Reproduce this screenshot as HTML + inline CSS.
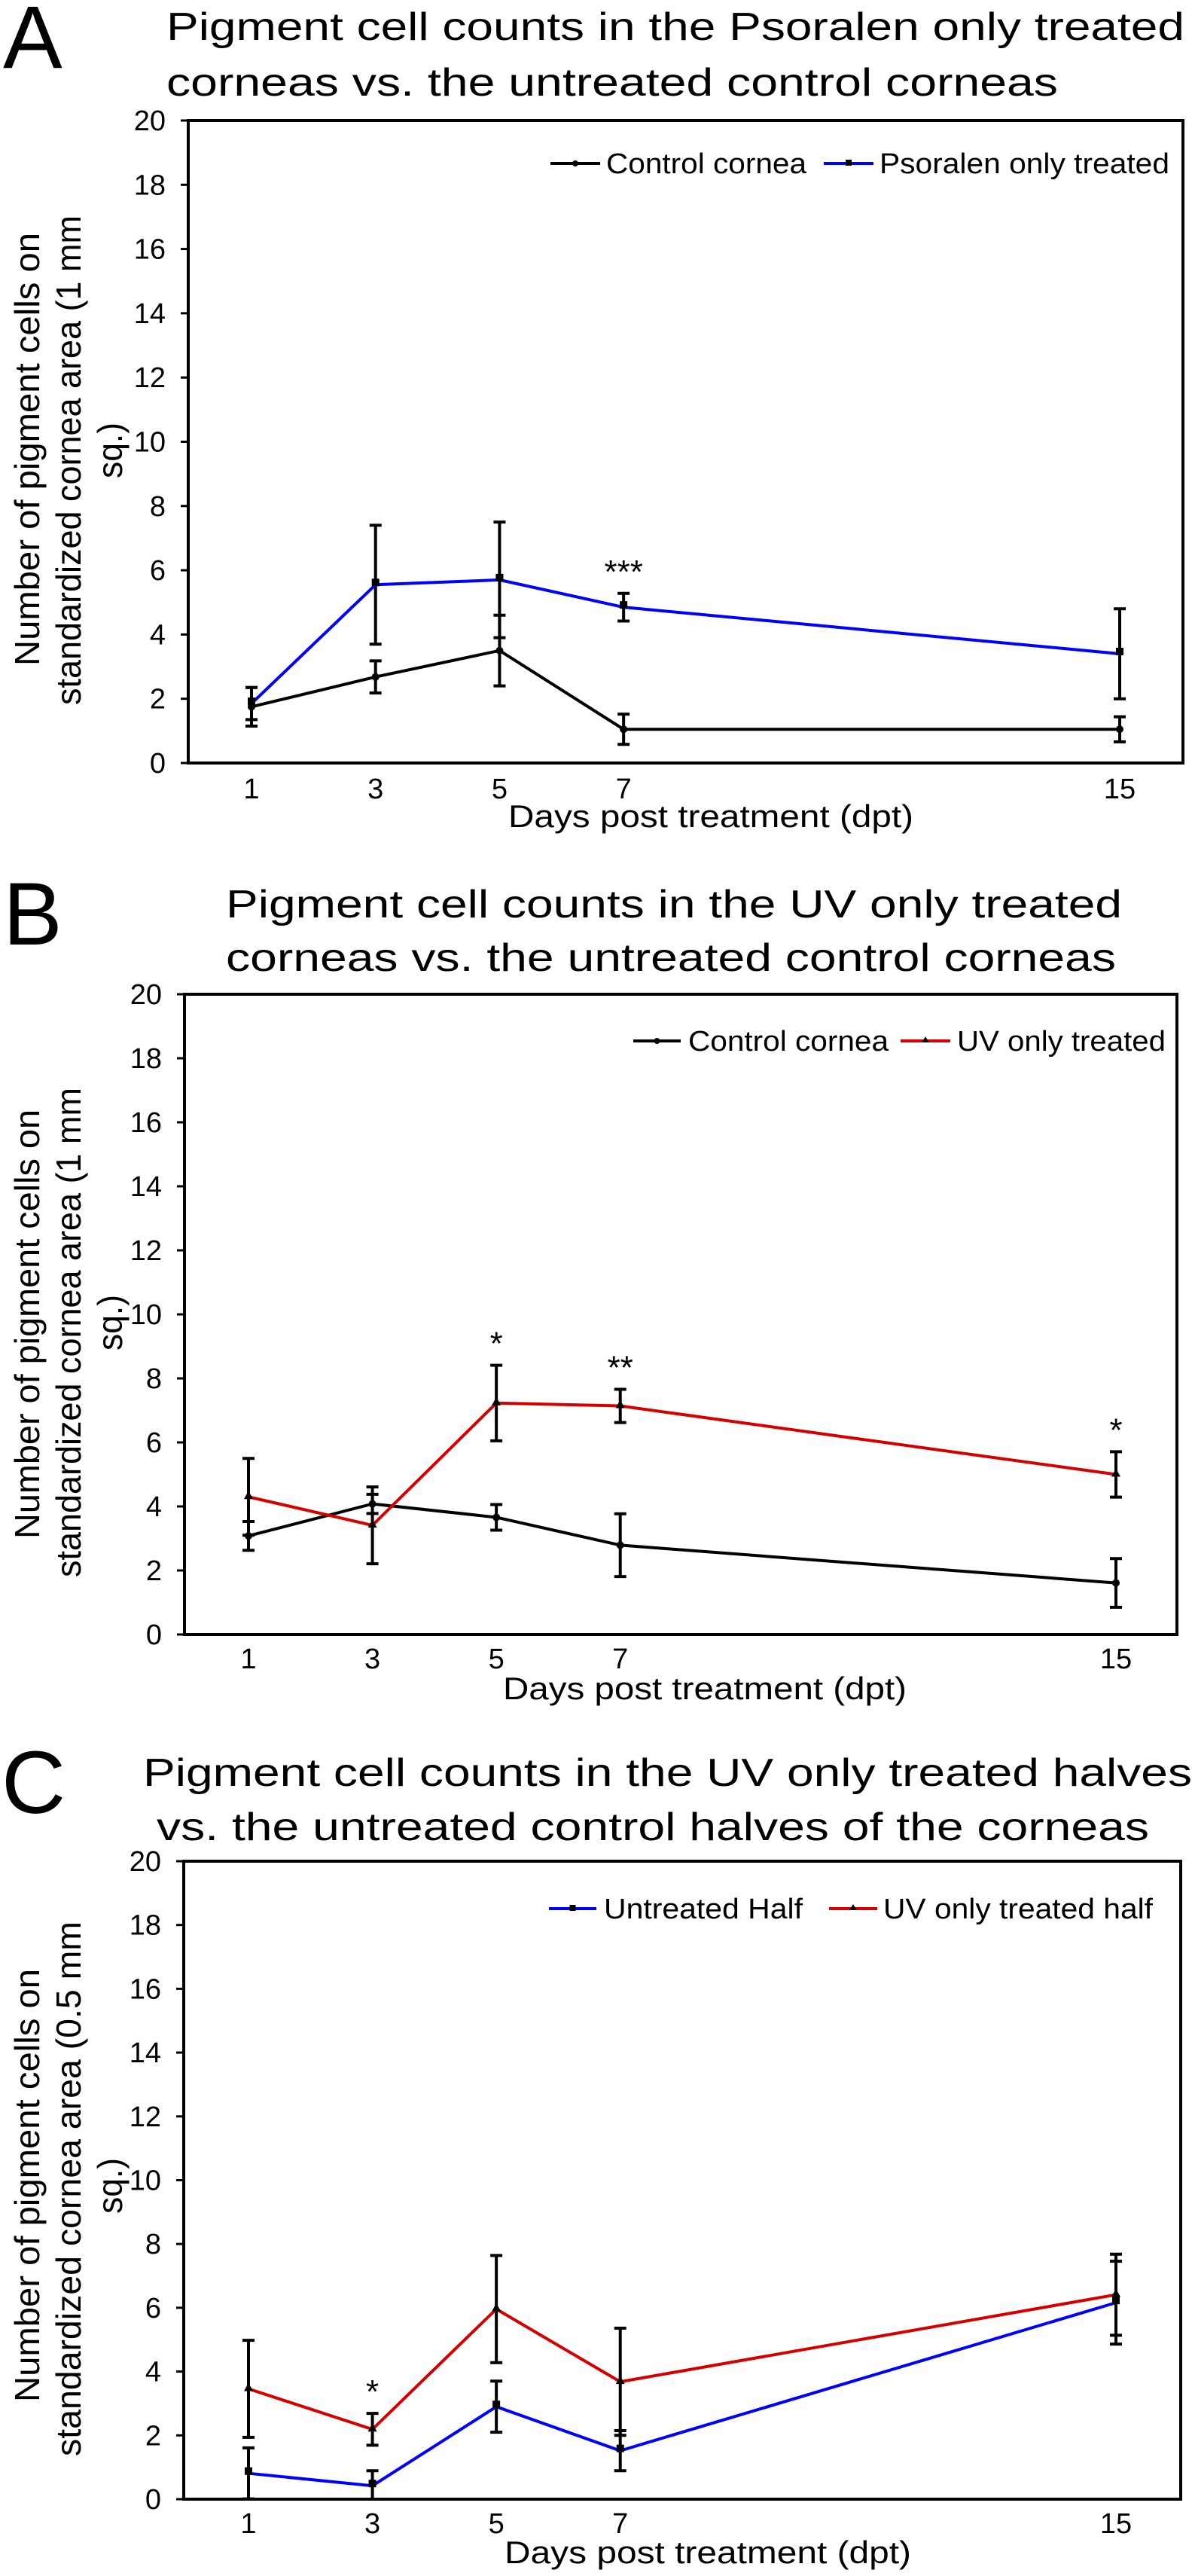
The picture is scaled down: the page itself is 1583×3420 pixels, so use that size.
<!DOCTYPE html>
<html><head><meta charset="utf-8"><style>
html,body{margin:0;padding:0;background:#fff;}
svg{display:block;font-family:"Liberation Sans",Arial,sans-serif;}
</style></head><body>
<svg id="fig" width="1583" height="3420" viewBox="0 0 1583 3420"></svg>
<script>
const days = [1,3,5,7,15];
const yTicks = [0,2,4,6,8,10,12,14,16,18,20];
const aControl = [1.75,2.68,3.5,1.05,1.05];
const aControlErr = [0.6,0.5,1.1,0.47,0.39];
const aPsoralen = [1.85,5.55,5.7,4.85,3.4];
const aPsoralenErr = [0.5,1.85,1.8,0.43,1.4];
const aStars = ["", "", "", "***", ""];
const bControl = [3.08,4.08,3.66,2.79,1.61];
const bControlErr = [0.45,0.3,0.4,0.98,0.76];
const bUV = [4.3,3.41,7.23,7.14,5.0];
const bUVErr = [1.2,1.2,1.18,0.52,0.71];
const bStars = ["", "", "*", "**", "*"];
const cUntreated = [0.81,0.42,2.9,1.52,6.16];
const cUntreatedErr = [0.8,0.47,0.8,0.63,1.3];
const cUV = [3.46,2.19,5.96,3.68,6.41];
const cUVErr = [1.52,0.5,1.68,1.68,1.27];
const cStars = ["", "*", "", "", ""];

const NS="http://www.w3.org/2000/svg";
const svg=document.getElementById('fig');
function mk(tag,attrs,parent,text){const e=document.createElementNS(NS,tag);for(const k in attrs)e.setAttribute(k,attrs[k]);if(text!==undefined)e.textContent=text;(parent||svg).appendChild(e);return e;}

function panel(cfg){
  const g=mk('g',{});
  
  
  const L=cfg.left,R=cfg.right,T=cfg.top,B=cfg.bottom;
  const xS=d=>cfg.x1+(d-1)*(cfg.x15-cfg.x1)/14;
  const yS=v=>B-(v/20)*(B-T);
  let t=mk('text',{x:cfg.letterX,y:cfg.letterY,'font-size':118,fill:'#000'},g,cfg.letter);
  
  cfg.title.forEach((ln,i)=>{
    const tt=mk('text',{x:ln[1],y:ln[2],'font-size':52,textLength:ln[3],lengthAdjust:'spacingAndGlyphs',fill:'#000'},g,ln[0]);
    
  });
  const fr=mk('rect',{x:L,y:T,width:R-L,height:B-T,fill:'none',stroke:'#000','stroke-width':4},g);
  
  yTicks.forEach(v=>{
    const y=yS(v);
    mk('line',{x1:L-10,y1:y,x2:L,y2:y,stroke:'#000','stroke-width':3},g);
    const lb=mk('text',{x:L-30,y:y+13,'font-size':38,'text-anchor':'end',fill:'#000'},g,String(v));
    
  });
  days.forEach(d=>{
    const lb=mk('text',{x:xS(d),y:cfg.xLabY,'font-size':38,'text-anchor':'middle',fill:'#000'},g,String(d));
    
  });
  const xt=mk('text',{x:cfg.xTitleX,y:cfg.xTitleY,'font-size':42,textLength:cfg.xTitleW,lengthAdjust:'spacingAndGlyphs',fill:'#000'},g,'Days post treatment (dpt)');
  
  cfg.ytitle.forEach(ln=>{
    const yt=mk('text',{transform:`translate(${ln[1]},${ln[2]}) rotate(-90)`,'font-size':46,textLength:ln[3],lengthAdjust:'spacingAndGlyphs',fill:'#000'},g,ln[0]);
    
  });
  cfg.series.forEach(s=>{
    const sg=mk('g',{},g);
    
    s.vals.forEach((v,i)=>{
      const x=xS(days[i]),yt=yS(v+s.err[i]),yb=yS(Math.max(0,v-s.err[i]));
      const eb=mk('path',{d:`M${x},${yt}V${yb}M${x-8},${yt}H${x+8}M${x-8},${yb}H${x+8}`,stroke:'#000','stroke-width':4,fill:'none'},sg);
      
    });
    const pts=s.vals.map((v,i)=>xS(days[i])+','+yS(v)).join(' ');
    const pl=mk('polyline',{points:pts,fill:'none',stroke:s.color,'stroke-width':4},sg);
    
    s.vals.forEach((v,i)=>{
      const x=xS(days[i]),y=yS(v);let m;
      if(s.marker==='circle')m=mk('circle',{cx:x,cy:y,r:5,fill:'#000'},sg);
      else if(s.marker==='square')m=mk('rect',{x:x-5,y:y-8,width:10,height:10,fill:'#000'},sg);
      else m=mk('path',{d:`M${x},${y-8}L${x+6},${y+3}L${x-6},${y+3}Z`,fill:'#000'},sg);
      
    });
  });
  cfg.stars.forEach((s,i)=>{
    if(!s)return;
    const top=Math.max(...cfg.series.map(se=>se.vals[i]+se.err[i]));
    const st=mk('text',{x:xS(days[i]),y:yS(top)-14,'font-size':44,'text-anchor':'middle',fill:'#000'},g,s);
    
  });
  const lg=mk('g',{},g);
  
  cfg.legend.forEach(e=>{
    const ln=mk('line',{x1:e.lx1,y1:cfg.legY,x2:e.lx2,y2:cfg.legY,stroke:e.color,'stroke-width':4},lg);
    
    const mx=(e.lx1+e.lx2)/2,my=cfg.legY;
    if(e.marker==='circle')mk('circle',{cx:mx,cy:my,r:4,fill:'#000'},lg);
    else if(e.marker==='square')mk('rect',{x:mx-4,y:my-5,width:8,height:8,fill:'#000'},lg);
    else mk('path',{d:`M${mx},${my-6}L${mx+5},${my+2}L${mx-5},${my+2}Z`,fill:'#000'},lg);
    const lt=mk('text',{x:e.tx,y:cfg.legY+13,'font-size':38,textLength:e.tw,lengthAdjust:'spacingAndGlyphs',fill:'#000'},lg,e.text);
    
  });
}

panel({name:'panel-a',letter:'A',letterX:4,letterY:90,
  title:[['Pigment cell counts in the Psoralen only treated',221,53,1352],['corneas vs. the untreated control corneas',221,127,1184]],
  left:250,right:1571,top:160,bottom:1013,x1:334,x15:1487,xLabY:1060,xTitleX:675,xTitleY:1098,xTitleW:538,
  ytitle:[['Number of pigment cells on',52,884,575],['standardized cornea area (1 mm',107,936,650],['sq.)',162,635,74]],
  series:[{key:'control-cornea',vals:aControl,err:aControlErr,color:'#000',marker:'circle'},
          {key:'psoralen-only',vals:aPsoralen,err:aPsoralenErr,color:'#0000ff',marker:'square'}],
  stars:aStars,legY:217,
  legend:[{lx1:731,lx2:797,color:'#000',marker:'circle',tx:805,tw:266,text:'Control cornea'},
          {lx1:1094,lx2:1160,color:'#0000ff',marker:'square',tx:1168,tw:385,text:'Psoralen only treated'}]});

panel({name:'panel-b',letter:'B',letterX:4,letterY:1254,
  title:[['Pigment cell counts in the UV only treated',300,1218,1190],['corneas vs. the untreated control corneas',300,1289,1182]],
  left:245,right:1563,top:1320,bottom:2170,x1:330,x15:1482,xLabY:2215,xTitleX:668,xTitleY:2256,xTitleW:536,
  ytitle:[['Number of pigment cells on',52,2043,570],['standardized cornea area (1 mm',107,2094,650],['sq.)',162,1793,74]],
  series:[{key:'control-cornea',vals:bControl,err:bControlErr,color:'#000',marker:'circle'},
          {key:'uv-only',vals:bUV,err:bUVErr,color:'#d40000',marker:'triangle'}],
  stars:bStars,legY:1382,
  legend:[{lx1:841,lx2:904,color:'#000',marker:'circle',tx:914,tw:266,text:'Control cornea'},
          {lx1:1196,lx2:1262,color:'#d40000',marker:'triangle',tx:1271,tw:277,text:'UV only treated'}]});

panel({name:'panel-c',letter:'C',letterX:2,letterY:2407,
  title:[['Pigment cell counts in the UV only treated halves',190,2371,1393],['vs. the untreated control halves of the corneas',208,2443,1318]],
  left:244,right:1568,top:2471,bottom:3318,x1:330,x15:1482,xLabY:3363,xTitleX:670,xTitleY:3403,xTitleW:540,
  ytitle:[['Number of pigment cells on',52,3189,575],['standardized cornea area (0.5 mm',107,3261,710],['sq.)',162,2939,74]],
  series:[{key:'untreated-half',vals:cUntreated,err:cUntreatedErr,color:'#0000ff',marker:'square'},
          {key:'uv-only-half',vals:cUV,err:cUVErr,color:'#d40000',marker:'triangle'}],
  stars:cStars,legY:2534,
  legend:[{lx1:729,lx2:792,color:'#0000ff',marker:'square',tx:802,tw:264,text:'Untreated Half'},
          {lx1:1101,lx2:1165,color:'#d40000',marker:'triangle',tx:1173,tw:358,text:'UV only treated half'}]});
</script>
</body></html>
